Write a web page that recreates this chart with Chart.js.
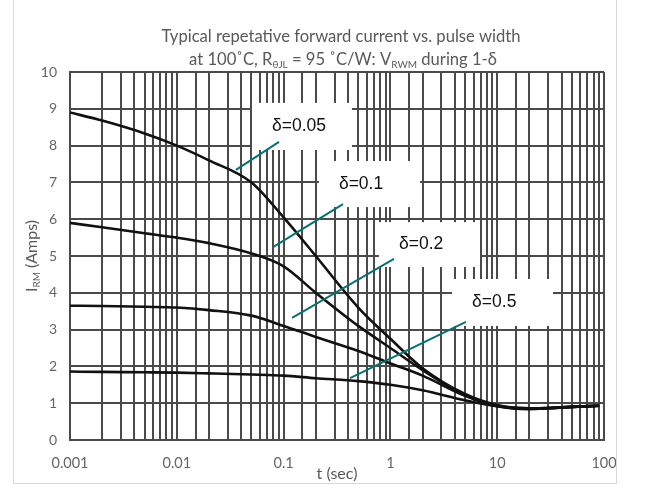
<!DOCTYPE html>
<html>
<head>
<meta charset="utf-8">
<script src="https://cdn.jsdelivr.net/npm/chart.js@4/dist/chart.umd.min.js"></script>
<style>
html,body{margin:0;padding:0;background:#fff;}
#wrap{width:647px;height:485px;}
</style>
</head>
<body>
<div id="wrap"><canvas id="c" width="647" height="485"></canvas></div>
<script>
// ---- data ----
const tSec      = [0.001, 0.002, 0.005, 0.01, 0.02, 0.05, 0.1, 0.2, 0.5, 1, 2, 5, 10, 20, 30, 50, 90];
const irmD005   = [8.9, 8.68, 8.33, 8.0, 7.6, 7.0, 6.05, 5.0, 3.6, 2.75, 1.95, 1.25, 0.95, 0.86, 0.87, 0.9, 0.93];
const irmD01    = [5.9, 5.78, 5.62, 5.5, 5.35, 5.07, 4.72, 4.0, 3.1, 2.5, 1.9, 1.22, 0.93, 0.85, 0.87, 0.9, 0.93];
const irmD02    = [3.65, 3.64, 3.62, 3.6, 3.53, 3.38, 3.1, 2.8, 2.42, 2.08, 1.75, 1.2, 0.92, 0.84, 0.86, 0.9, 0.93];
const irmD05    = [1.86, 1.85, 1.84, 1.83, 1.81, 1.78, 1.75, 1.68, 1.6, 1.5, 1.35, 1.08, 0.92, 0.86, 0.87, 0.9, 0.93];
const seriesNames = ['δ=0.05', 'δ=0.1', 'δ=0.2', 'δ=0.5'];
const xTickValues = [0.001, 0.01, 0.1, 1, 10, 100];
const xTickLabels = ['0.001', '0.01', '0.1', '1', '10', '100'];
const yTickLabels = ['0','1','2','3','4','5','6','7','8','9','10'];

// callout boxes & leader lines, in data coordinates [x1, yTop, x2, yBottom] / [xStart, yStart, xEnd, yEnd]
const callouts = [
  {text: seriesNames[0], box: [0.0506, 9.16, 0.436, 7.88], line: [0.0906, 8.10, 0.0358, 7.34]},
  {text: seriesNames[1], box: [0.214, 7.58, 1.89, 6.33],   line: [0.36, 6.41, 0.0796, 5.24]},
  {text: seriesNames[2], box: [0.781, 5.92, 6.9, 4.70],    line: [1.08, 4.92, 0.12, 3.32]},
  {text: seriesNames[3], box: [3.78, 4.375, 33.3, 3.10],   line: [5.1, 3.21, 0.419, 1.68]}
];

const TEXT_GRAY = '#666666';
const GRID = '#4a4a4a';

function pts(ys) { return tSec.map((x, i) => ({x: x, y: ys[i]})); }

function drawRich(ctx, parts, cx, baseline, size, subSize, color) {
  ctx.save();
  ctx.fillStyle = color;
  ctx.textBaseline = 'alphabetic';
  ctx.textAlign = 'left';
  let total = 0;
  parts.forEach(p => {
    ctx.font = (p.sub ? subSize : size) + 'px Lato';
    p.w = ctx.measureText(p.t).width;
    total += p.w;
  });
  let x = cx - total / 2;
  parts.forEach(p => {
    ctx.font = (p.sub ? subSize : size) + 'px Lato';
    ctx.fillText(p.t, x, baseline + (p.sub ? 3 : 0));
    x += p.w;
  });
  ctx.restore();
}

const decor = {
  id: 'decor',
  afterDatasetsDraw(chart) {
    const ctx = chart.ctx, xs = chart.scales.x, ys = chart.scales.y;
    callouts.forEach(c => {
      const x1 = xs.getPixelForValue(c.box[0]), y1 = ys.getPixelForValue(c.box[1]);
      const x2 = xs.getPixelForValue(c.box[2]), y2 = ys.getPixelForValue(c.box[3]);
      ctx.save();
      ctx.fillStyle = '#ffffff';
      ctx.fillRect(x1, y1, x2 - x1, y2 - y1);
      ctx.fillStyle = '#111111';
      ctx.font = '17.5px "Liberation Sans", Arial, sans-serif';
      ctx.textAlign = 'left';
      ctx.textBaseline = 'middle';
      ctx.fillText(c.text, x1 + 20, (y1 + y2) / 2);
      ctx.strokeStyle = '#0b7070';
      ctx.lineWidth = 2;
      ctx.beginPath();
      ctx.moveTo(xs.getPixelForValue(c.line[0]), ys.getPixelForValue(c.line[1]));
      ctx.lineTo(xs.getPixelForValue(c.line[2]), ys.getPixelForValue(c.line[3]));
      ctx.stroke();
      ctx.restore();
    });
  },
  afterDraw(chart) {
    const ctx = chart.ctx, a = chart.chartArea;
    // figure frame
    ctx.save();
    ctx.strokeStyle = '#d9d9d9';
    ctx.lineWidth = 1;
    ctx.strokeRect(13.5, -2, 603, 485.5);
    ctx.restore();
    // title
    const cx = 341;
    drawRich(ctx, [{t: 'Typical repetative forward current vs. pulse width'}], cx, 42, 16.6, 10, '#595959');
    drawRich(ctx, [
      {t: 'at 100˚C, R'}, {t: 'θJL', sub: true}, {t: ' = 95 ˚C/W: V'}, {t: 'RWM', sub: true}, {t: ' during 1-δ'}
    ], cx + 2, 65, 16.6, 10, '#595959');
    // y-axis title
    ctx.save();
    ctx.translate(31, (a.top + a.bottom) / 2);
    ctx.rotate(-Math.PI / 2);
    drawRich(ctx, [{t: 'I'}, {t: 'RM', sub: true}, {t: ' (Amps)'}], 0, 5.5, 16, 10, '#595959');
    ctx.restore();
  }
};

const datasets = [irmD005, irmD01, irmD02, irmD05].map((ys, i) => ({
  label: seriesNames[i],
  data: pts(ys),
  borderColor: '#111111',
  borderWidth: 2.6,
  pointRadius: 0,
  fill: false,
  cubicInterpolationMode: 'monotone'
}));

new Chart(document.getElementById('c'), {
  type: 'line',
  data: {datasets: datasets},
  options: {
    responsive: false,
    animation: false,
    events: [],
    layout: {padding: {left: 0, right: 43, top: 72, bottom: 0}},
    plugins: {legend: {display: false}, title: {display: false}, tooltip: {enabled: false}},
    scales: {
      x: {
        type: 'logarithmic',
        min: 0.001, max: 100,
        afterFit(s) { s.height = 45; },
        grid: {color: GRID, lineWidth: 2, drawTicks: false},
        border: {color: GRID, width: 2},
        ticks: {
          autoSkip: false, maxRotation: 0, padding: 15, color: TEXT_GRAY,
          font: {family: 'Lato', size: 14.5},
          callback(v) {
            const i = xTickValues.findIndex(t => Math.abs(t - v) / t < 1e-6);
            return i >= 0 ? xTickLabels[i] : '';
          }
        },
        title: {display: true, text: 't (sec)', color: '#595959', font: {family: 'Lato', size: 16}, padding: {top: 0, bottom: 2}}
      },
      y: {
        type: 'linear',
        min: 0, max: 10,
        afterFit(s) { s.width = 70; },
        grid: {color: GRID, lineWidth: 2, drawTicks: false},
        border: {color: GRID, width: 2},
        ticks: {
          stepSize: 1, padding: 13, color: TEXT_GRAY,
          font: {family: 'Lato', size: 14},
          callback(v) { return yTickLabels[Math.round(v)]; }
        }
      }
    }
  },
  plugins: [decor]
});
</script>
</body>
</html>
